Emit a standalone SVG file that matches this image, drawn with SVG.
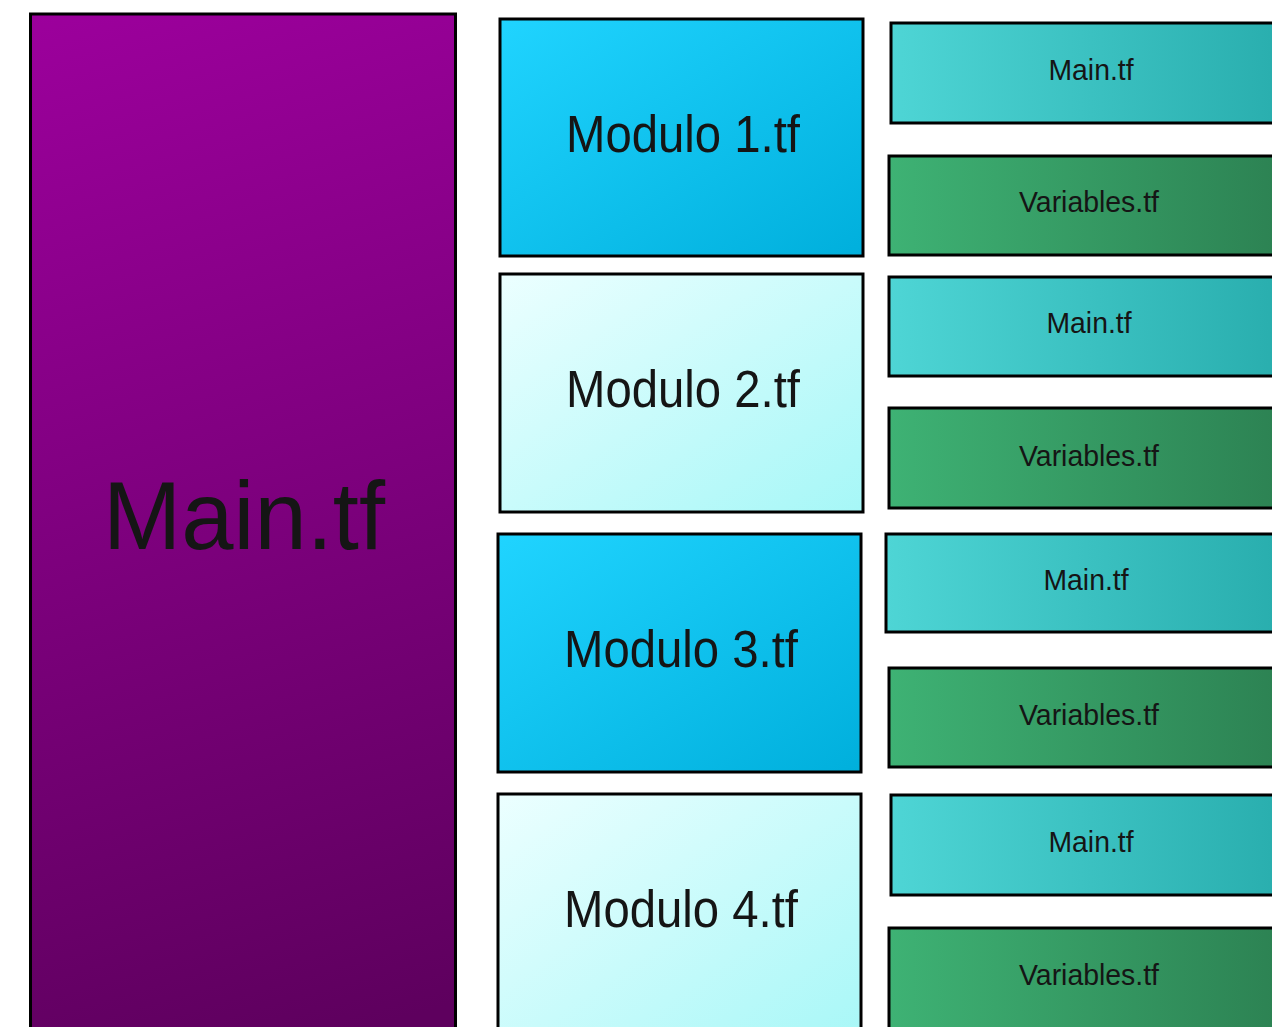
<svg xmlns="http://www.w3.org/2000/svg" width="1272" height="1027" viewBox="0 0 1272 1027">
  <defs>
    <linearGradient id="gMain" gradientUnits="userSpaceOnUse" x1="30" y1="14" x2="330" y2="1040">
      <stop offset="0" stop-color="#9c009c"/>
      <stop offset="1" stop-color="#5e005e"/>
    </linearGradient>
    <linearGradient id="gBlue" x1="0" y1="0" x2="1" y2="1">
      <stop offset="0" stop-color="#20d4ff"/>
      <stop offset="1" stop-color="#00afdc"/>
    </linearGradient>
    <linearGradient id="gPale" x1="0" y1="0" x2="1" y2="1">
      <stop offset="0" stop-color="#ecffff"/>
      <stop offset="1" stop-color="#a6f7f7"/>
    </linearGradient>
    <linearGradient id="gTeal" x1="0" y1="0" x2="1" y2="0">
      <stop offset="0" stop-color="#4ed5d5"/>
      <stop offset="1" stop-color="#28adad"/>
    </linearGradient>
    <linearGradient id="gGreen" x1="0" y1="0" x2="1" y2="0">
      <stop offset="0" stop-color="#3eb274"/>
      <stop offset="1" stop-color="#2c8152"/>
    </linearGradient>
  </defs>
  <style>
    rect { stroke: #000; stroke-width: 3; }
    text { font-family: "Liberation Sans", Arial, sans-serif; fill: #151515; text-anchor: middle; }
    .big { font-size: 96px; }
    .mod { font-size: 51px; }
    .sm { font-size: 30px; }
  </style>
  <rect width="1272" height="1027" fill="#ffffff" stroke="none" style="stroke:none"/>
  <g id="main">
    <rect x="30.5" y="14" width="425" height="1040" fill="url(#gMain)"/>
    <text class="big" x="244" y="549" textLength="282" lengthAdjust="spacingAndGlyphs">Main.tf</text>
  </g>
  <g id="modulo1">
    <rect x="500" y="19" width="363" height="237" fill="url(#gBlue)"/>
    <text class="mod" x="683" y="152" textLength="234" lengthAdjust="spacingAndGlyphs">Modulo 1.tf</text>
  </g>
  <g id="modulo2">
    <rect x="500" y="274" width="363" height="238" fill="url(#gPale)"/>
    <text class="mod" x="683" y="407" textLength="234" lengthAdjust="spacingAndGlyphs">Modulo 2.tf</text>
  </g>
  <g id="modulo3">
    <rect x="498" y="534" width="363" height="238" fill="url(#gBlue)"/>
    <text class="mod" x="681" y="667" textLength="234" lengthAdjust="spacingAndGlyphs">Modulo 3.tf</text>
  </g>
  <g id="modulo4">
    <rect x="498" y="794" width="363" height="260" fill="url(#gPale)"/>
    <text class="mod" x="681" y="927" textLength="234" lengthAdjust="spacingAndGlyphs">Modulo 4.tf</text>
  </g>
  <g id="m1-main">
    <rect x="891" y="23" width="400" height="100" fill="url(#gTeal)"/>
    <text class="sm" x="1091" y="80" textLength="85" lengthAdjust="spacingAndGlyphs">Main.tf</text>
  </g>
  <g id="m1-vars">
    <rect x="889" y="156" width="400" height="99" fill="url(#gGreen)"/>
    <text class="sm" x="1089" y="212" textLength="140" lengthAdjust="spacingAndGlyphs">Variables.tf</text>
  </g>
  <g id="m2-main">
    <rect x="889" y="277" width="400" height="99" fill="url(#gTeal)"/>
    <text class="sm" x="1089" y="333" textLength="85" lengthAdjust="spacingAndGlyphs">Main.tf</text>
  </g>
  <g id="m2-vars">
    <rect x="889" y="408" width="400" height="100" fill="url(#gGreen)"/>
    <text class="sm" x="1089" y="466" textLength="140" lengthAdjust="spacingAndGlyphs">Variables.tf</text>
  </g>
  <g id="m3-main">
    <rect x="886" y="534" width="400" height="98" fill="url(#gTeal)"/>
    <text class="sm" x="1086" y="590" textLength="85" lengthAdjust="spacingAndGlyphs">Main.tf</text>
  </g>
  <g id="m3-vars">
    <rect x="889" y="668" width="400" height="99" fill="url(#gGreen)"/>
    <text class="sm" x="1089" y="725" textLength="140" lengthAdjust="spacingAndGlyphs">Variables.tf</text>
  </g>
  <g id="m4-main">
    <rect x="891" y="795" width="400" height="100" fill="url(#gTeal)"/>
    <text class="sm" x="1091" y="852" textLength="85" lengthAdjust="spacingAndGlyphs">Main.tf</text>
  </g>
  <g id="m4-vars">
    <rect x="889" y="928" width="400" height="120" fill="url(#gGreen)"/>
    <text class="sm" x="1089" y="985" textLength="140" lengthAdjust="spacingAndGlyphs">Variables.tf</text>
  </g>
  <g id="connectors"/>
</svg>
